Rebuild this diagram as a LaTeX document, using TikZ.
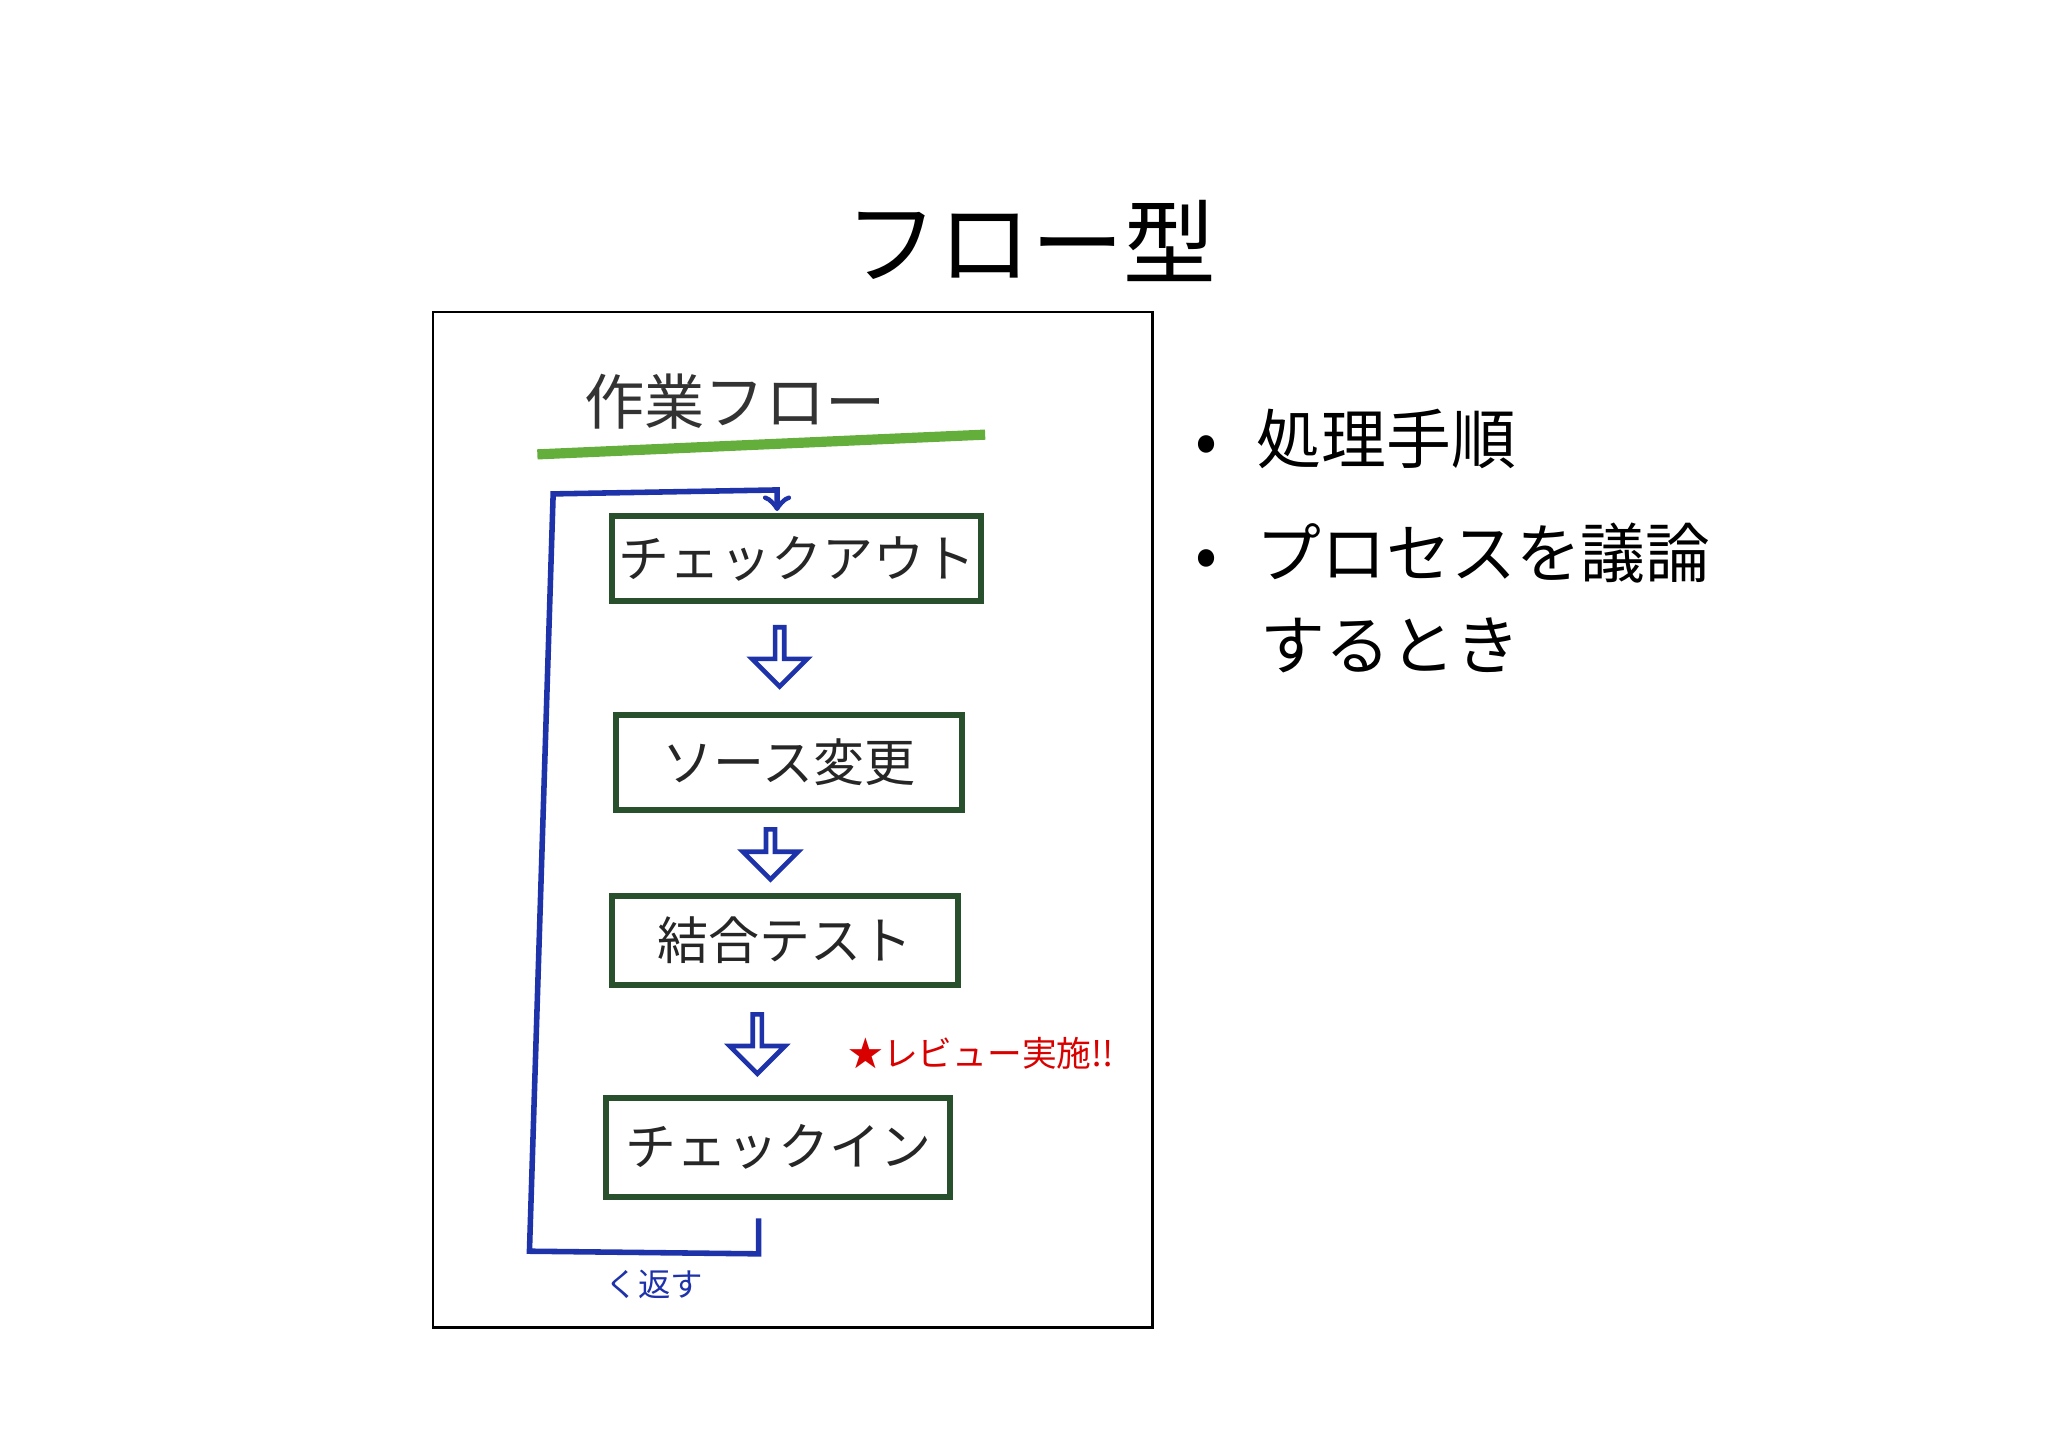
\documentclass[tikz,border=0pt]{standalone}
\usepackage{fontspec}
\newfontfamily\jp{Noto Sans CJK JP}
\usetikzlibrary{shapes.arrows}
\definecolor{bx}{RGB}{40,80,45}
\definecolor{bl}{RGB}{30,50,170}
\definecolor{gr}{RGB}{100,175,60}
\begin{document}
\begin{tikzpicture}[x=0.01cm,y=-0.01cm,
  stepbox/.style={draw=bx,line width=1.3pt,minimum height=0.65cm,inner sep=0pt,font=\jp\fontsize{11}{11}\selectfont,text=black!85},
  harrow/.style={single arrow,draw=bl,line width=1pt,fill=white,shape border rotate=270,minimum height=0.45cm,minimum width=0.42cm,single arrow head extend=0.09cm,inner sep=0pt},
  bul/.style={anchor=west,font=\jp\fontsize{14}{14}\selectfont}]
\useasboundingbox (0,0) rectangle (1555,1100);
\node[font=\jp\fontsize{20}{20}\selectfont] (title) at (783,183) {フロー型};
\draw[line width=0.5pt] (329,237) rectangle (875,1008);
\node[font=\jp\fontsize{13}{13}\selectfont,text=black!80] (head) at (558,305) {作業フロー};
\coordinate (g1) at (408,345); \coordinate (g2) at (748,330);
\draw[gr,line width=2.2pt] (g1) -- (g2);
\node[stepbox,minimum width=2.8cm] (b1) at (605,424) {チェックアウト};
\node[stepbox,minimum width=2.62cm,minimum height=0.72cm] (b2) at (599,579) {ソース変更};
\node[stepbox,minimum width=2.63cm,minimum height=0.68cm] (b3) at (596,714) {結合テスト};
\node[stepbox,minimum width=2.61cm,minimum height=0.75cm] (b4) at (591,871) {チェックイン};
\node[harrow] (a1) at (592,497) {};
\node[harrow,minimum height=0.38cm] (a2) at (585,647) {};
\node[harrow] (a3) at (575,791) {};
\coordinate (l0) at (576,925); \coordinate (l1) at (576,952);
\coordinate (l2) at (402,950); \coordinate (l3) at (420,375);
\coordinate (l4) at (590,372); \coordinate (l5) at (590,388);
\draw[bl,line width=1.2pt,->] (l0) -- (l1) -- (l2) -- (l3) -- (l4) -- (l5);
\node[text=bl,font=\jp\fontsize{7}{7}\selectfont] (rep) at (497,975) {く返す};
\node[text=red!85!black,font=\jp\fontsize{7.5}{7.5}\selectfont] (rev) at (745,800) {★レビュー実施!!};
\node[bul] (p1) at (895,333) {•\hspace{0.3cm}処理手順};
\node[bul] (p2) at (895,420) {•\hspace{0.3cm}プロセスを議論};
\node[bul] (p3) at (945,490) {するとき};
\end{tikzpicture}
\end{document}
